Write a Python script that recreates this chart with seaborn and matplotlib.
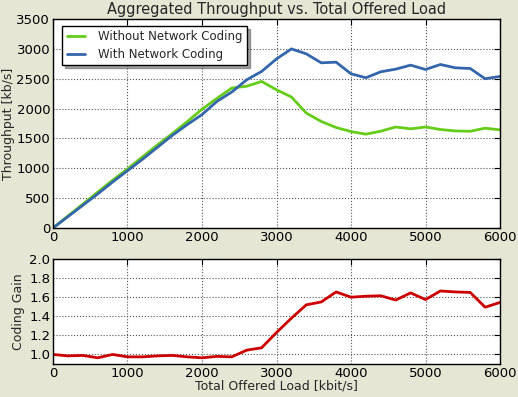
import numpy as np
import pandas as pd
import matplotlib
matplotlib.use("Agg")
import matplotlib.pyplot as plt
import seaborn as sns

# offered load (kbit/s)
load = list(range(0, 6001, 200))

without_nc = [0, 200, 400, 600, 800, 990, 1190, 1390, 1580, 1780,
              1990, 2170, 2345, 2375, 2455, 2315, 2195, 1925, 1785, 1683,
              1615, 1572, 1622, 1692, 1661, 1692, 1650, 1626, 1620, 1672,
              1644]
with_nc = [0, 190, 380, 570, 770, 960, 1150, 1350, 1550, 1730,
           1900, 2120, 2278, 2483, 2622, 2833, 3000, 2917, 2767, 2778,
           2583, 2517, 2617, 2661, 2728, 2655, 2739, 2683, 2672, 2500,
           2539]
gain = [1.0, 0.985, 0.99, 0.965, 1.0, 0.975, 0.975, 0.985, 0.99, 0.975,
        0.965, 0.98, 0.975, 1.045, 1.07, 1.23, 1.38, 1.52, 1.55, 1.655,
        1.6, 1.61, 1.615, 1.57, 1.645, 1.575, 1.665, 1.655, 1.65, 1.495,
        1.545]

df = pd.DataFrame({
    "load": load * 2,
    "throughput": without_nc + with_nc,
    "series": ["Without Network Coding"] * len(load) + ["With Network Coding"] * len(load),
})
df_gain = pd.DataFrame({"load": load, "gain": gain})

sns.set_style("white")
plt.rcParams['font.family'] = ['DejaVu Sans']

fig = plt.figure(figsize=(5.18, 3.97), dpi=100, facecolor="#e6e6d4")
ax1 = fig.add_axes([0.1023, 0.4257, 0.8630, 0.5263])
ax2 = fig.add_axes([0.1023, 0.0831, 0.8630, 0.2645])

palette = {"Without Network Coding": "#66cc1a", "With Network Coding": "#3366aa"}
sns.lineplot(data=df, x="load", y="throughput", hue="series", palette=palette,
             linewidth=2, ax=ax1)
sns.lineplot(data=df_gain, x="load", y="gain", color="#cc0000", linewidth=2, ax=ax2)

ax1.set_xlim(0, 6000)
ax1.set_ylim(0, 3500)
ax1.set_xticks(range(0, 6001, 1000))
ax1.set_yticks(range(0, 3501, 500))
ax1.set_title("Aggregated Throughput vs. Total Offered Load", fontsize=10.5, pad=4)
ax1.set_xlabel("")
ax1.set_ylabel("Throughput [kb/s]", fontsize=9)
ax1.yaxis.set_label_coords(-0.085, 0.5)

ax2.set_xlim(0, 6000)
ax2.set_ylim(0.9, 2.0)
ax2.set_xticks(range(0, 6001, 1000))
ax2.set_yticks(np.arange(1.0, 2.01, 0.2))
ax2.set_xlabel("Total Offered Load [kbit/s]", fontsize=9, labelpad=0)
ax2.set_ylabel("Coding Gain", fontsize=9)
ax2.yaxis.set_label_coords(-0.062, 0.5)

for ax in (ax1, ax2):
    ax.set_facecolor("white")
    ax.grid(True, color="#555555", linestyle=":", linewidth=0.8)
    ax.tick_params(direction="in", length=4, width=0.8, top=True, right=True,
                   labelsize=9.5, pad=2, colors="black")
    for s in ax.spines.values():
        s.set_color("black")
        s.set_linewidth(1)

leg = ax1.legend(loc="upper left", fontsize=8.5, frameon=True, fancybox=False,
                 shadow=True, handlelength=1.6, handletextpad=1.1,
                 borderpad=0.35, labelspacing=0.4,
                 bbox_to_anchor=(0.008, 0.995))
leg.get_frame().set_edgecolor("black")
leg.get_frame().set_linewidth(1)
leg.set_title(None)

fig.savefig("out.png", dpi=100, facecolor=fig.get_facecolor())
